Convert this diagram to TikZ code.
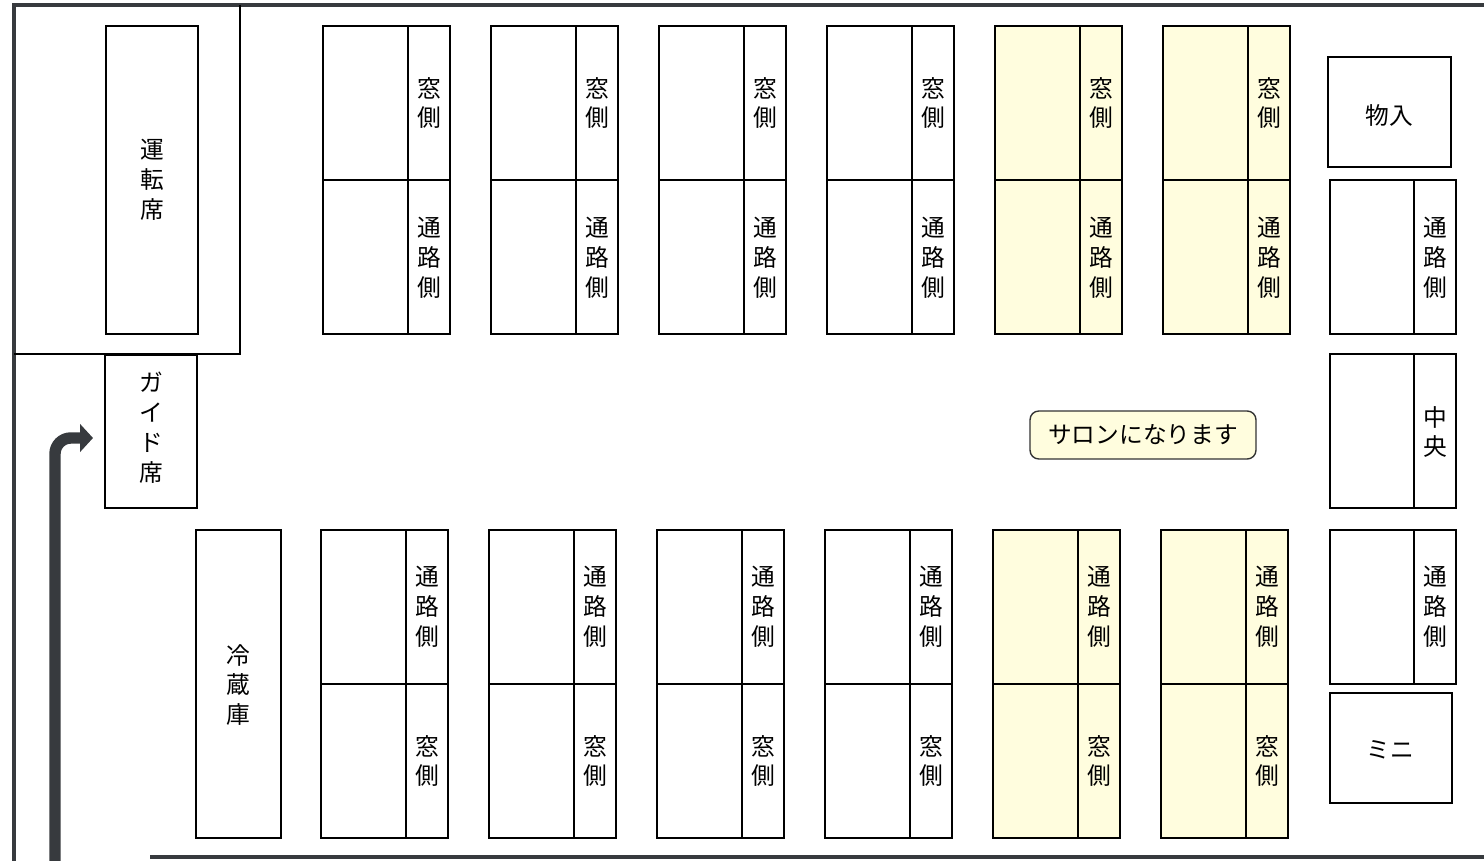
\documentclass[tikz,border=0pt]{standalone}
\usepackage{fontspec}
\newfontfamily\jp{Noto Sans CJK JP}
\usepackage{xcolor}
\usetikzlibrary{arrows.meta}
\definecolor{salon}{RGB}{255,253,222}
\definecolor{wallgray}{RGB}{55,58,62}

\begin{document}
\begin{tikzpicture}[
    x=0.02cm, y=-0.02cm,
    wall/.style = {
        line width=2.4pt,
        wallgray
    },
    seat/.style = {
        draw=black,
        line width=0.8pt
    },
    tag/.style = {
        font=\jp\fontsize{13.5}{17}\selectfont,
        align=center,
        inner sep=0pt
    },
    enter/.style = {line width=6.5pt, wallgray, rounded corners=9pt, -{Triangle[length=0.26cm, width=0.55cm]}},
    notice/.style = {
        draw=black!80,
        fill=salon,
        rounded corners=5pt,
        line width=0.8pt,
        minimum width=4.52cm,
        minimum height=0.96cm,
        font=\jp\fontsize{13.5}{17}\selectfont
    }
]
    \useasboundingbox (0,0) rectangle (1484,861);

    % Draw the walls
    \draw[wall] (14,861) -- (14,5) -- (1484,5);
    \draw[wall] (150,857) -- (1484,857);

    % Driver, guide and fridge
    \draw[seat] (14,354) -- (240,354) -- (240,5);
    \draw[seat] (106,26) rectangle (198,334);
    \node[tag] (driver) at (152,180) {運\\転\\席};
    \draw[seat] (105,355) rectangle (197,508);
    \node[tag] (guide) at (151,428) {ガ\\イ\\ド\\席};
    \draw[seat] (196,530) rectangle (281,838);
    \node[tag] (fridge) at (238,685) {冷\\蔵\\庫};

    % Seat rows
    \foreach \i/\c in {0/white,1/white,2/white,3/white,4/salon,5/salon} {
        \draw[seat, fill=\c] (323+168*\i,26) rectangle (450+168*\i,334);
        \draw[seat] (323+168*\i,180) -- +(127,0);
        \draw[seat] (408+168*\i,26) -- +(0,308);
        \node[tag] (tw\i) at (429+168*\i,103) {窓\\側};
        \node[tag] (ta\i) at (429+168*\i,258) {通\\路\\側};

        \draw[seat, fill=\c] (321+168*\i,530) rectangle (448+168*\i,838);
        \draw[seat] (321+168*\i,684) -- +(127,0);
        \draw[seat] (406+168*\i,530) -- +(0,308);
        \node[tag] (ba\i) at (427+168*\i,607) {通\\路\\側};
        \node[tag] (bw\i) at (427+168*\i,761) {窓\\側};
    }

    % Back of the bus
    \draw[seat] (1328,57) rectangle (1451,167);
    \node[tag] (storage) at (1389,115) {物入};
    \draw[seat] (1330,180) rectangle (1456,334);
    \draw[seat] (1414,180) -- (1414,334);
    \node[tag] (ra1) at (1435,258) {通\\路\\側};
    \draw[seat] (1330,354) rectangle (1456,508);
    \draw[seat] (1414,354) -- (1414,508);
    \node[tag] (middle) at (1435,432) {中\\央};
    \draw[seat] (1330,530) rectangle (1456,684);
    \draw[seat] (1414,530) -- (1414,684);
    \node[tag] (ra2) at (1435,607) {通\\路\\側};
    \draw[seat] (1330,693) rectangle (1452,803);
    \node[tag] (mini) at (1390,750) {ミニ};

    \node[notice] (salonnote) at (1143,435) {サロンになります};

    % Way in
    \coordinate (door) at (55,861);
    \coordinate (aim) at (93,438);
    \draw[enter] (door) |- (aim);

\end{tikzpicture}
\end{document}
